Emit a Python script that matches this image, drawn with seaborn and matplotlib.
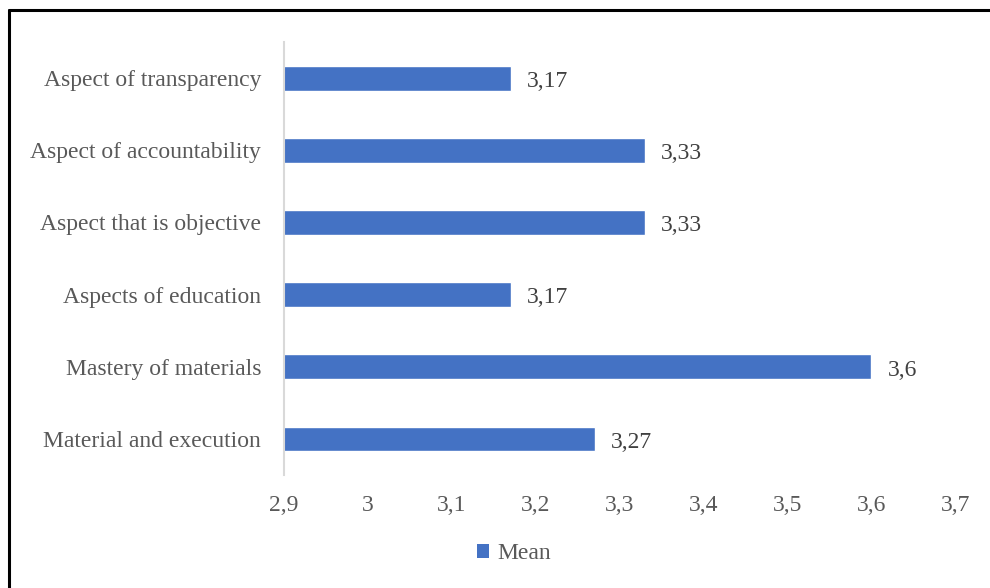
import matplotlib
matplotlib.use("Agg")
import matplotlib.pyplot as plt
import seaborn as sns
import pandas as pd
from matplotlib.ticker import FuncFormatter, MultipleLocator
from matplotlib.lines import Line2D
from matplotlib.patches import Patch

categories = ["Aspect of transparency", "Aspect of accountability", "Aspect that is objective",
              "Aspects of education", "Mastery of materials", "Material and execution"]
means = [3.17, 3.33, 3.33, 3.17, 3.6, 3.27]
series_name = "Mean"

sns.set_style("white")
plt.rcParams['font.family'] = ['Liberation Serif', 'DejaVu Serif']

df = pd.DataFrame({"Aspect": categories, series_name: means})

fig = plt.figure(figsize=(9.9, 5.88), dpi=100)
ax = fig.add_axes([0.287, 0.192, 0.678, 0.7366])
bar_color = "#4472C4"
sns.barplot(data=df, y="Aspect", x=series_name, order=categories, color=bar_color,
            width=0.345, orient="h", ax=ax, saturation=1)

FS = 17
ax.set_xlim(2.9, 3.7)
ax.set_ylim(5.5, -0.5)
ax.xaxis.set_major_locator(MultipleLocator(0.1))
ax.xaxis.set_major_formatter(FuncFormatter(lambda v, p: f"{round(v, 2):g}".replace(".", ",")))
ax.set_xlabel("")
ax.set_ylabel("")
for s in ["top", "right", "bottom"]:
    ax.spines[s].set_visible(False)
ax.spines["left"].set_color("#d9d9d9")
ax.spines["left"].set_linewidth(1.5)
ax.tick_params(axis="both", length=0, labelcolor="#595959", labelsize=FS)
ax.tick_params(axis="x", pad=14.5)
ax.tick_params(axis="y", pad=16.5)

for i, v in enumerate(means):
    ax.text(v + 0.019, i + 0.045, f"{v:g}".replace(".", ","), va="center", ha="left",
            fontsize=FS, color="#404040")

handles = [Patch(facecolor=bar_color, edgecolor="none", label=series_name)]
leg = fig.legend(handles=handles, loc="center", bbox_to_anchor=(0.519, 0.058), frameon=False,
                 handlelength=0.5, handleheight=0.5, handletextpad=0.34, fontsize=FS)
for t in leg.get_texts():
    t.set_color("#595959")

fig.add_artist(Line2D([0.0092, 0.0092], [0, 0.983], transform=fig.transFigure, color="black", lw=2.2))
fig.add_artist(Line2D([0.0092, 1], [0.983, 0.983], transform=fig.transFigure, color="black", lw=2.2))

fig.savefig("out.png", dpi=100)
